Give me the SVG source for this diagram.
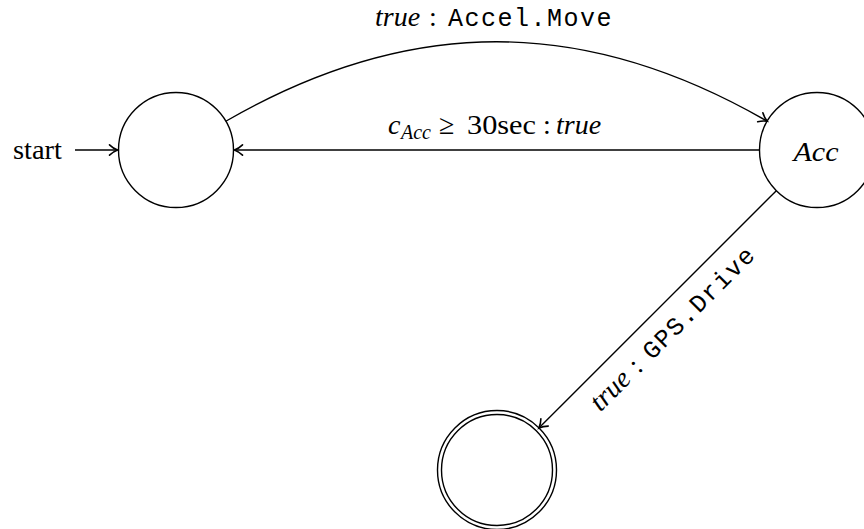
<svg xmlns="http://www.w3.org/2000/svg" width="864" height="529" viewBox="0 0 864 529">
  <style>
    .state { fill: #fff; stroke: #000; stroke-width: 1.4; }
    .edge { fill: none; stroke: #000; stroke-width: 1.4; marker-end: url(#arrow); }
    .rm { font-family: "Liberation Serif", "Times New Roman", serif; font-size: 28px; fill: #000; }
    .it { font-family: "Liberation Serif", "Times New Roman", serif; font-style: italic; font-size: 28px; fill: #000; }
    .sub { font-size: 20px; }
    .tt { font-family: "Liberation Mono", "Courier New", monospace; font-size: 25px; letter-spacing: 1.5px; fill: #000; }
  </style>
  <defs>
    <marker id="arrow" viewBox="-10 -7 12 14" markerWidth="12" markerHeight="14" refX="0" refY="0" orient="auto" markerUnits="userSpaceOnUse">
      <path d="M-8,-5.2 C-5,-2.3 -1.8,-0.7 0,0 C-1.8,0.7 -5,2.3 -8,5.2" fill="none" stroke="#000" stroke-width="1.6" stroke-linecap="round"/>
    </marker>
  </defs>

  <rect width="864" height="529" fill="#fff"/>

  <!-- states -->
  <g id="q0">
    <circle class="state" cx="176" cy="150" r="57.5"/>
  </g>
  <g id="acc">
    <circle class="state" cx="817" cy="150" r="57.5"/>
    <text class="it" x="816" y="161" text-anchor="middle" textLength="45" lengthAdjust="spacingAndGlyphs">Acc</text>
  </g>
  <g id="drive">
    <circle class="state" cx="497" cy="470" r="59.5"/>
    <circle class="state" cx="497" cy="470" r="55.5"/>
  </g>

  <!-- transitions -->
  <g id="edges">
    <!-- initial arrow -->
    <text class="rm" x="13" y="159" textLength="49" lengthAdjust="spacingAndGlyphs">start</text>
    <line class="edge" x1="75" y1="150" x2="117.5" y2="150"/>

    <!-- q0 -> Acc (bend left) -->
    <path class="edge" d="M225.8,121.25 C409.4,15.25 583.6,15.25 767.2,121.25"/>
    <text y="26"><tspan class="it" x="375">true</tspan><tspan class="rm" x="429">:</tspan><tspan class="tt" x="448">Accel.Move</tspan></text>

    <!-- Acc -> q0 -->
    <line class="edge" x1="759.5" y1="150" x2="234.5" y2="150"/>
    <text y="134"><tspan class="it" x="388">c</tspan><tspan class="it sub" x="401" y="139">Acc</tspan><tspan class="rm" x="439" y="134">≥</tspan><tspan class="rm" x="467" textLength="69" lengthAdjust="spacingAndGlyphs">30sec</tspan><tspan class="rm" x="543">:</tspan><tspan class="it" x="556">true</tspan></text>

    <!-- Acc -> drive -->
    <line class="edge" x1="776.3" y1="190.7" x2="538.9" y2="428.1"/>
    <g transform="translate(680.5,332.5) rotate(-45)">
      <text y="0"><tspan class="it" x="-113">true</tspan><tspan class="rm" x="-59">:</tspan><tspan class="tt" x="-40">GPS.Drive</tspan></text>
    </g>
  </g>
</svg>
